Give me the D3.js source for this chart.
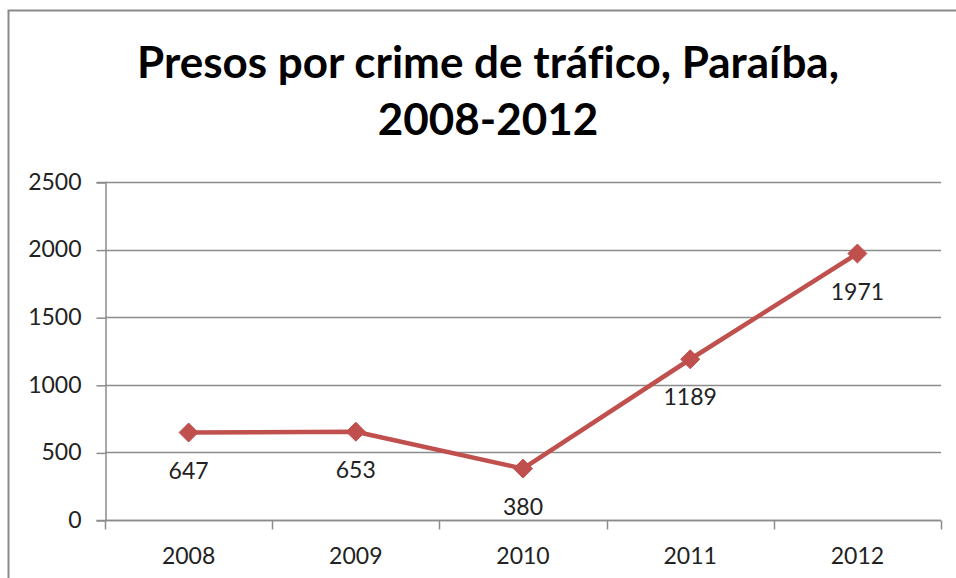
<!DOCTYPE html>
<html>
<head>
<meta charset="utf-8">
<script src="https://cdn.jsdelivr.net/npm/d3@7"></script>
<style>
  html, body { margin: 0; padding: 0; background: #fff; }
  svg { display: block; }
  text { font-variant-ligatures: none; }
</style>
</head>
<body>
<svg id="chart" width="956" height="578"></svg>
<script>
// Arrests for drug trafficking, Paraíba, by year
const years = ["2008", "2009", "2010", "2011", "2012"];
const presos = [647, 653, 380, 1189, 1971];
const yTicks = [0, 500, 1000, 1500, 2000, 2500];
const titleLines = ["Presos por crime de tráfico, Paraíba,", "2008-2012"];

const W = 956, H = 578;
const plot = { left: 105, right: 941, top: 182, bottom: 520 };
const lineColor = "#C0504D";
const gridColor = "#8c8c8c";
const textFont = "Lato, 'Open Sans', sans-serif";

const svg = d3.select("#chart");

// chart frame (only the top and left edges fall inside the page)
svg.append("rect")
  .attr("x", 8.5).attr("y", 10.5)
  .attr("width", 1200).attr("height", 1200)
  .attr("fill", "#fff")
  .attr("stroke", "#8a8a8a").attr("stroke-width", 2);

// title
svg.append("g").selectAll("text")
  .data(titleLines)
  .join("text")
  .attr("x", 488)
  .attr("y", (d, i) => 78 + i * 57)
  .attr("text-anchor", "middle")
  .attr("font-family", textFont)
  .attr("font-weight", 700)
  .attr("font-size", 44)
  .attr("fill", "#000")
  .text(d => d);

const x = d3.scaleBand().domain(years).range([plot.left, plot.right]).padding(0);
const y = d3.scaleLinear().domain([0, 2500]).range([plot.bottom, plot.top]);

// horizontal gridlines
svg.append("g").selectAll("line")
  .data(yTicks)
  .join("line")
  .attr("x1", plot.left).attr("x2", plot.right)
  .attr("y1", d => Math.round(y(d)) + 0.5).attr("y2", d => Math.round(y(d)) + 0.5)
  .attr("stroke", gridColor).attr("stroke-width", 1.5);

// y axis
const yAxis = svg.append("g")
  .attr("transform", `translate(${plot.left + 0.5},0)`)
  .call(d3.axisLeft(y).tickValues(yTicks).tickSize(9).tickPadding(15).tickFormat(d3.format("d")));
yAxis.select(".domain").attr("stroke", gridColor).attr("stroke-width", 1.5);
yAxis.selectAll(".tick line").attr("stroke", gridColor).attr("stroke-width", 1.5)
  .attr("transform", "translate(0,0.5)");
yAxis.selectAll(".tick text")
  .attr("font-family", textFont).attr("font-size", 23).attr("fill", "#222");

// x axis: ticks sit on the category boundaries
const xAxisG = svg.append("g")
  .attr("transform", `translate(0,${Math.round(plot.bottom) + 0.5})`);
xAxisG.append("line")
  .attr("x1", plot.left).attr("x2", plot.right)
  .attr("stroke", gridColor).attr("stroke-width", 1.5);
const bounds = years.map(d => x(d)).concat([x(years[years.length - 1]) + x.bandwidth()]);
xAxisG.selectAll("line.tk")
  .data(bounds)
  .join("line")
  .attr("class", "tk")
  .attr("x1", d => Math.round(d) + 0.5).attr("x2", d => Math.round(d) + 0.5)
  .attr("y1", 0).attr("y2", 9)
  .attr("stroke", gridColor).attr("stroke-width", 1.5);
xAxisG.selectAll("text")
  .data(years)
  .join("text")
  .attr("x", d => x(d) + x.bandwidth() / 2)
  .attr("y", 35)
  .attr("dy", "0.35em")
  .attr("text-anchor", "middle")
  .attr("font-family", textFont).attr("font-size", 23).attr("fill", "#222")
  .text(d => d);

// series line
const pts = years.map((d, i) => ({ year: d, value: presos[i] }));
const cx = d => x(d.year) + x.bandwidth() / 2;
svg.append("path")
  .datum(pts)
  .attr("fill", "none")
  .attr("stroke", lineColor)
  .attr("stroke-width", 4.5)
  .attr("stroke-linejoin", "round")
  .attr("d", d3.line().x(cx).y(d => y(d.value)));

// diamond markers
svg.append("g").selectAll("path")
  .data(pts)
  .join("path")
  .attr("transform", d => `translate(${cx(d)},${y(d.value)})`)
  .attr("d", d3.symbol().type(d3.symbolDiamond2).size(230))
  .attr("fill", lineColor)
  .attr("stroke", lineColor).attr("stroke-width", 1);

// value labels below each point
svg.append("g").selectAll("text")
  .data(pts)
  .join("text")
  .attr("x", cx)
  .attr("y", d => y(d.value) + 38)
  .attr("dy", "0.35em")
  .attr("text-anchor", "middle")
  .attr("font-family", textFont).attr("font-size", 23).attr("fill", "#222")
  .text(d => d.value);
</script>
</body>
</html>
